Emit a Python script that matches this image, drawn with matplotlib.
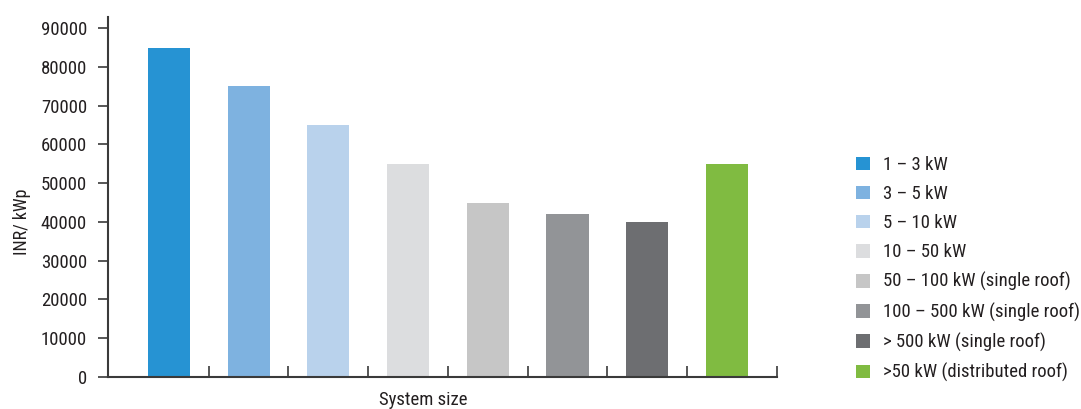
import matplotlib
matplotlib.use("Agg")
import matplotlib.pyplot as plt
from matplotlib.patches import Patch
from matplotlib import font_manager

# Data
categories = ["1 – 3 kW", "3 – 5 kW", "5 – 10 kW", "10 – 50 kW",
              "50 – 100 kW (single roof)", "100 – 500 kW (single roof)",
              "> 500 kW (single roof)", ">50 kW (distributed roof)"]
values = [85000, 75000, 65000, 55000, 45000, 42000, 40000, 55000]
colors = ["#2693D3", "#7EB2E0", "#B9D2EC", "#DCDDDF",
          "#C6C6C6", "#929497", "#6D6E71", "#80BB41"]
yticks = [0, 10000, 20000, 30000, 40000, 50000, 60000, 70000, 80000, 90000]

# Pick a condensed sans face
installed = {f.name for f in font_manager.fontManager.ttflist}
for cand in ["Roboto Condensed", "Archivo Narrow", "PT Sans Narrow", "Barlow Condensed",
             "Asap Condensed", "Roboto"]:
    if cand in installed:
        main_font = cand
        break
plt.rcParams["font.family"] = [main_font, "DejaVu Sans"]
txt = "#231F20"

W, H = 1081, 409
fig = plt.figure(figsize=(W / 100, H / 100), dpi=100)
ax = fig.add_axes([108 / W, 1 - 377 / H, (777 - 108) / W, (377 - 17) / H])

x = list(range(len(values)))
ax.bar(x, values, width=0.53, color=colors, zorder=2)

ax.set_xlim(-0.765, 7.63)
ax.set_ylim(0, 92900)
ax.set_yticks(yticks)
ax.set_yticklabels([str(v) for v in yticks], fontsize=13.5, color=txt)
ax.set_xticks([i + 0.5 for i in range(len(values) - 1)] + [7.63])
ax.set_xticklabels([])

for s in ["top", "right"]:
    ax.spines[s].set_visible(False)
for s in ["left", "bottom"]:
    ax.spines[s].set_color("#3a3a3a")
    ax.spines[s].set_linewidth(1.5)
ax.tick_params(axis="y", direction="out", length=7, width=1.2, color="#3a3a3a", pad=8)
ax.tick_params(axis="x", direction="in", length=8, width=1.2, color="#3a3a3a")

fig.text(423 / W, 1 - 400 / H, "System size", ha="center", va="center", fontsize=13.5, color=txt)
fig.text(22 / W, 1 - 222 / H, "INR/ kWp", ha="center", va="center", rotation=90, fontsize=13, color=txt)

handles = [Patch(facecolor=c, edgecolor="none") for c in colors]
fig.legend(handles, categories, loc="upper left", bbox_to_anchor=(856 / W, 1 - 156 / H),
           frameon=False, fontsize=13.5, handlelength=0.75, handleheight=0.75,
           handletextpad=0.7, labelspacing=0.59, labelcolor=txt, borderaxespad=0, borderpad=0)

fig.savefig("out.png", dpi=100)
